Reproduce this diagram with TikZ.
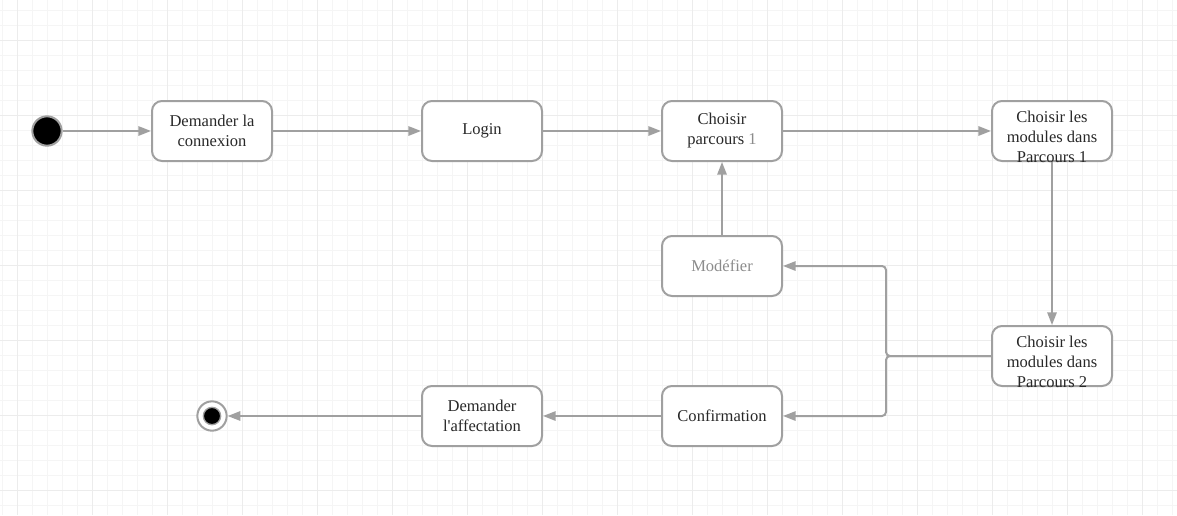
\documentclass[tikz,border=0pt]{standalone}
\usepackage{fontspec}
\setmainfont{Liberation Serif}
\usetikzlibrary{arrows.meta}
\definecolor{lineGrey}{RGB}{160,160,160}
\definecolor{textDark}{RGB}{40,40,40}
\definecolor{textGrey}{RGB}{140,140,140}
\definecolor{gridMinor}{RGB}{245,245,245}
\definecolor{gridMajor}{RGB}{236,236,236}
\tikzset{every picture/.style={line width=0.75pt}}
\tikzset{
  activity/.style={draw=lineGrey, line width=1.5pt, rounded corners=7.5pt, fill=white,
    minimum width=90pt, minimum height=45pt, inner sep=0pt, align=center,
    text=textDark, font=\fontsize{12.4}{15}\selectfont},
  acttext/.style={inner sep=0pt, align=center, text=textDark, font=\fontsize{12.4}{15}\selectfont},
  initial/.style={circle, draw=lineGrey, line width=1.5pt, fill=black, minimum size=22pt, inner sep=0pt},
  final/.style={circle, draw=lineGrey, line width=1.5pt, fill=white, minimum size=22pt, inner sep=0pt},
  finaldot/.style={circle, draw=lineGrey, line width=1pt, fill=black, minimum size=13pt, inner sep=0pt},
  flow/.style={draw=lineGrey, line width=1.5pt, rounded corners=3pt, -{Triangle[length=9.5pt,width=7pt]}},
}

\begin{document}
\begin{tikzpicture}[x=0.75pt,y=0.75pt,yscale=-1,xscale=1]
\useasboundingbox (0,0) rectangle (1177,515);
\fill[white] (0,0) rectangle (1177,515);

%Grid
\foreach \gx in {2.3,17.3,...,1177} \draw[gridMinor] (\gx,0) -- (\gx,515);
\foreach \gy in {10.7,25.7,...,515} \draw[gridMinor] (0,\gy) -- (1177,\gy);
\foreach \gx in {17.3,92.3,...,1177} \draw[gridMajor] (\gx,0) -- (\gx,515);
\foreach \gy in {40.7,115.7,...,515} \draw[gridMajor] (0,\gy) -- (1177,\gy);

%Shape: Initial state
\node[initial] (start) at (47,131) {};
%Shape: Activities
\node[activity] (demcon) at (212,131) {Demander la\\connexion};
\node[activity] (login) at (482,131) {Login};
\node[activity] (choix1) at (722,131) {Choisir\\parcours {\color{textGrey}1}};
\node[activity] (mod1) at (1052,131) {};
\node[acttext] (mod1txt) at (1052,137) {Choisir les\\modules dans\\Parcours 1};
\node[activity, text=textGrey] (modif) at (722,266) {Modéfier};
\node[activity] (mod2) at (1052,356) {};
\node[acttext] (mod2txt) at (1052,362) {Choisir les\\modules dans\\Parcours 2};
\node[activity] (confirm) at (722,416) {Confirmation};
\node[activity] (demaff) at (482,416) {Demander\\l\textquotesingle affectation};
%Shape: Final state
\node[final] (stop) at (212,416) {};
\node[finaldot] (stopdot) at (212,416) {};

\coordinate (split) at (886,356);

%Straight Lines
\draw[flow] (start) -- (demcon);
\draw[flow] (demcon) -- (login);
\draw[flow] (login) -- (choix1);
\draw[flow] (choix1) -- (mod1);
\draw[flow] (mod1) -- (mod2);
\draw[flow] (mod2) -- (split) |- (modif);
\draw[flow] (mod2) -- (split) |- (confirm);
\draw[flow] (modif) -- (choix1);
\draw[flow] (confirm) -- (demaff);
\draw[flow] (demaff) -- (stop);

\end{tikzpicture}
\end{document}
